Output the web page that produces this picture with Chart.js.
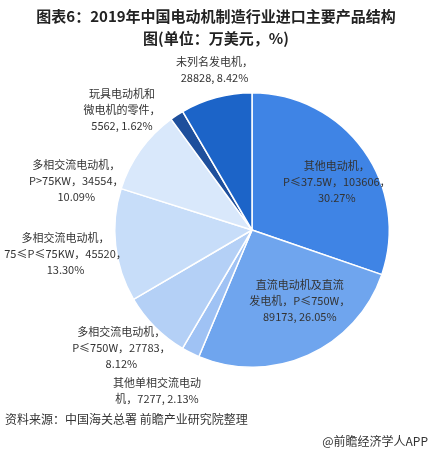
<!DOCTYPE html>
<html>
<head>
<meta charset="utf-8">
<script src="https://cdn.jsdelivr.net/npm/chart.js@4"></script>
<style>
body { margin: 0; background: #fff; }
#wrap { width: 433px; height: 457px; position: relative; }
</style>
</head>
<body>
<div id="wrap"><canvas id="myChart" width="433" height="457"></canvas></div>
<script>
// dados do gráfico
var categorias = [
    ['其他电动机，', 'P≤37.5W，103606，', '30.27%'],
    ['直流电动机及直流', '发电机，P≤750W，', '89173, 26.05%'],
    ['其他单相交流电动', '机，7277, 2.13%'],
    ['多相交流电动机，', 'P≤750W，27783，', '8.12%'],
    ['多相交流电动机，', '75≤P≤75KW，45520，', '13.30%'],
    ['多相交流电动机，', 'P>75KW，34554，', '10.09%'],
    ['玩具电动机和', '微电机的零件，', '5562, 1.62%'],
    ['未列名发电机，', '28828, 8.42%']
];
var percentagens = [30.27, 26.05, 2.13, 8.12, 13.30, 10.09, 1.62, 8.42];
var cores = ['#3f84e5', '#6fa5ee', '#9fc2f4', '#b4d0f6', '#c7ddf9', '#d9e8fb', '#1e4f9c', '#1c64c8'];

// posição das etiquetas: fator do raio e desvio do ângulo (graus)
var fatorRaio = [0.71, 0.62, 1.36, 1.28, 1.37, 1.33, 1.29, 1.2];
var desvioAng = [6, -10, 4, 3, -1, -20, -14, 2];

var etiquetas = {
    id: 'etiquetas',
    afterDraw: function (chart) {
        var c = chart.ctx;
        c.save();
        // título
        c.fillStyle = '#222';
        c.textAlign = 'center';
        c.font = 'bold 15px "Noto Sans CJK SC"';
        c.fillText('图表6：2019年中国电动机制造行业进口主要产品结构', 216, 22);
        c.fillText('图(单位：万美元，%)', 216, 44);
        // etiquetas das fatias
        c.font = '11px "Noto Sans CJK SC"';
        c.fillStyle = '#333';
        chart.getDatasetMeta(0).data.forEach(function (arc, i) {
            var p = arc.getProps(['x', 'y', 'startAngle', 'endAngle', 'outerRadius'], true);
            var a = (p.startAngle + p.endAngle) / 2 + desvioAng[i] * Math.PI / 180;
            var r = p.outerRadius * fatorRaio[i];
            var x = p.x + Math.cos(a) * r;
            var y = p.y + Math.sin(a) * r;
            var linhas = categorias[i];
            var y0 = y - (linhas.length - 1) * 16 / 2;
            c.textAlign = 'center';
            c.textBaseline = 'middle';
            linhas.forEach(function (t, k) { c.fillText(t, x, y0 + k * 16); });
        });
        // rodapé
        c.textBaseline = 'alphabetic';
        c.textAlign = 'left';
        c.font = '12px "Noto Sans CJK SC"';
        c.fillStyle = '#333';
        c.fillText('资料来源：中国海关总署 前瞻产业研究院整理', 5, 424);
        c.textAlign = 'right';
        c.fillText('@前瞻经济学人APP', 428, 446);
        c.restore();
    }
};

var ctx = document.getElementById('myChart').getContext('2d');
var grafico = new Chart(ctx, {
    type: 'pie',
    data: {
        labels: categorias.map(function (l) { return l.join(''); }),
        datasets: [{
            data: percentagens,
            backgroundColor: cores,
            borderColor: '#fff',
            borderWidth: 1.5
        }]
    },
    options: {
        responsive: false,
        animation: false,
        layout: { padding: { left: 112, right: 41, top: 92, bottom: 89 } },
        plugins: { legend: { display: false }, tooltip: { enabled: false } }
    },
    plugins: [etiquetas]
});
</script>
</body>
</html>
